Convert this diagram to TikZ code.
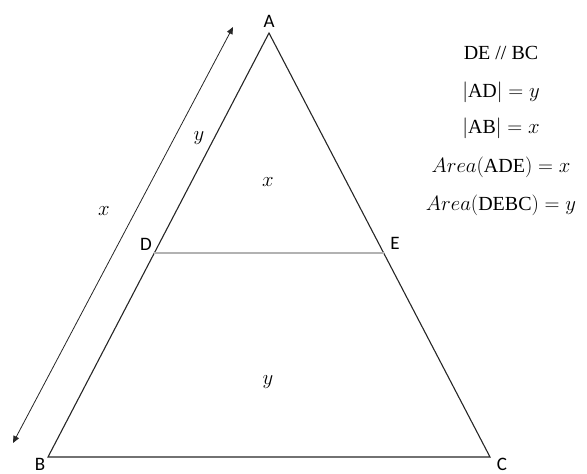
\documentclass[tikz,border=0pt]{standalone}
\usepackage{fontspec}
\setmainfont{Liberation Serif}
\newfontfamily\ptfont{Carlito}
\usetikzlibrary{calc,arrows.meta}
\tikzset{
  side/.style  = {line width=1.1pt, black!85},
  midline/.style = {line width=1.4pt, black!30},
  lenarrow/.style = {line width=0.8pt, black!85,
    {Triangle[length=7pt,width=6pt]}-{Triangle[length=7pt,width=6pt]}},
  ptlab/.style = {font=\ptfont\fontsize{19}{22}\selectfont, inner sep=0pt},
  vallab/.style = {font=\fontsize{20}{24}\selectfont, inner sep=0pt},
}

\begin{document}
\begin{tikzpicture}[x=1pt, y=-1pt]
\useasboundingbox (0,0) rectangle (587,474);

% ── Triangle corners (pixel grid, y pointing down) ───────────
\coordinate (A) at (269,33);
\coordinate (B) at (48,457);
\coordinate (C) at (490,457);
\def\t{0.519}
\coordinate (D) at ($(A)!\t!(B)$);
\coordinate (E) at ($(A)!\t!(C)$);

\draw[side] (A) -- (B) -- (C) -- cycle;
\draw[midline] (D) -- (E);

% ── Length arrow beside AB ───────────────────────────────────
\coordinate (lenlo) at (13,443);
\coordinate (lenhi) at (233,27);
\draw[lenarrow] (lenlo) -- (lenhi);

% ── Corner labels ────────────────────────────────────────────
\node[ptlab] (labA) at (269,21) {A};
\node[ptlab] (labB) at (40,464) {B};
\node[ptlab] (labC) at (502,464) {C};
\node[ptlab] (labD) at (146,244) {D};
\node[ptlab] (labE) at (395,243) {E};

% ── Lengths and areas ────────────────────────────────────────
\node[vallab] (lenAB) at (104,211) {$x$};
\node[vallab] (lenAD) at (199,138) {$y$};
\node[vallab] (areaADE) at (268,182) {$x$};
\node[vallab] (areaDEBC) at (268,382) {$y$};

% ── Given facts ──────────────────────────────────────────────
\foreach \yy/\txt/\nm in {%
    53/{DE // BC}/f1, 92/{$|\mathrm{AD}| = y$}/f2,
    128/{$|\mathrm{AB}| = x$}/f3, 167/{$Area(\mathrm{ADE}) = x$}/f4,
    205/{$Area(\mathrm{DEBC}) = y$}/f5}{
  \node[vallab] (\nm) at (501,\yy) {\txt};
}

\end{tikzpicture}
\end{document}
